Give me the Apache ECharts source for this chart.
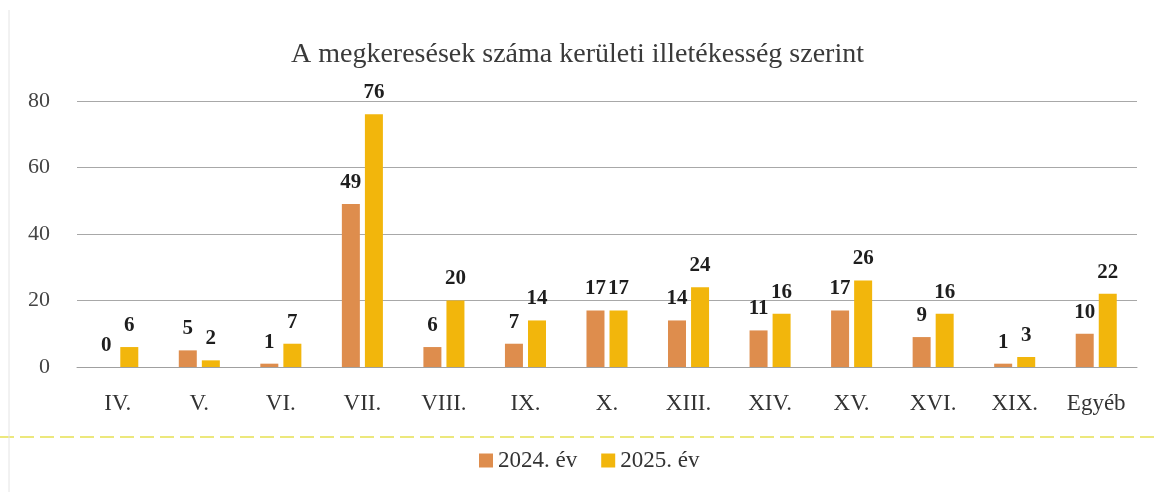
<!DOCTYPE html>
<html>
<head>
<meta charset="utf-8">
<script src="https://cdn.jsdelivr.net/npm/echarts@6/dist/echarts.min.js"></script>
<style>
  html, body { margin: 0; padding: 0; background: #fff; }
  #chart { width: 1155px; height: 492px; }
</style>
</head>
<body>
<div id="chart"></div>
<script>
const categories = ['IV.', 'V.', 'VI.', 'VII.', 'VIII.', 'IX.', 'X.', 'XIII.', 'XIV.', 'XV.', 'XVI.', 'XIX.', 'Egyéb']
const values2024 = [0, 5, 1, 49, 6, 7, 17, 14, 11, 17, 9, 1, 10]
const values2025 = [6, 2, 7, 76, 20, 14, 17, 24, 16, 26, 16, 3, 22]
const yTicks = [0, 20, 40, 60, 80]

const serif = '"Liberation Serif", "DejaVu Serif", serif'

const labelStyle = {
  show: true,
  position: 'top',
  distance: 11,
  fontFamily: serif,
  fontSize: 21,
  fontWeight: 'bold',
  color: '#1e1e1e',
}

const chart = echarts.init(document.getElementById('chart'))

chart.setOption({
  backgroundColor: '#fff',
  animation: false,
  title: {
    text: 'A megkeresések száma kerületi illetékesség szerint',
    left: 'center',
    top: 36,
    textStyle: { fontFamily: serif, fontSize: 28, fontWeight: 'normal', color: '#3a3a3a' },
  },
  legend: {
    data: ['2024. év', '2025. év'],
    left: 474,
    top: 444,
    icon: 'rect',
    itemWidth: 14,
    itemHeight: 14,
    itemGap: 24,
    itemStyle: { borderWidth: 0 },
    textStyle: { fontFamily: serif, fontSize: 23, color: '#333' },
  },
  grid: { left: 77, right: 18, top: 101, bottom: 125 },
  xAxis: {
    type: 'category',
    data: categories,
    axisTick: { show: false },
    axisLine: { lineStyle: { color: '#a0a0a0', width: 1 } },
    axisLabel: { margin: 25, fontFamily: serif, fontSize: 23, color: '#333' },
  },
  yAxis: {
    type: 'value',
    min: yTicks[0],
    max: yTicks[yTicks.length - 1],
    interval: 20,
    axisLine: { show: false },
    axisTick: { show: false },
    axisLabel: { margin: 27, fontFamily: serif, fontSize: 22, color: '#444' },
    splitLine: { lineStyle: { color: '#a8a8a8', width: 1 } },
  },
  series: [
    {
      name: '2024. év',
      type: 'bar',
      data: values2024,
      barWidth: 18,
      barGap: '28%',
      itemStyle: { color: '#DE8D4D' },
      label: labelStyle,
    },
    {
      name: '2025. év',
      type: 'bar',
      data: values2025,
      barWidth: 18,
      itemStyle: { color: '#F2B60C' },
      label: labelStyle,
    },
  ],
  graphic: [
    {
      type: 'line',
      shape: { x1: 0, y1: 437, x2: 1155, y2: 437 },
      style: { stroke: '#ECE87C', lineWidth: 2, lineDash: [14, 6] },
      silent: true,
    },
    {
      type: 'line',
      shape: { x1: 9, y1: 10, x2: 9, y2: 492 },
      style: { stroke: '#e4e4e4', lineWidth: 1 },
      silent: true,
    },
  ],
})
</script>
</body>
</html>
